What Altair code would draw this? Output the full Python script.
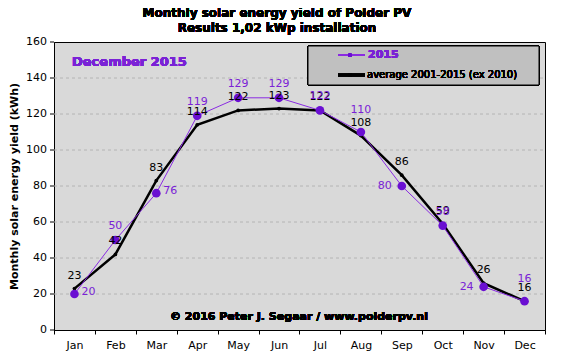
import altair as alt
import pandas as pd

months = ["Jan", "Feb", "Mar", "Apr", "May", "Jun", "Jul", "Aug", "Sep", "Oct", "Nov", "Dec"]
yield_2015 = [20, 50, 76, 119, 129, 129, 122, 110, 80, 58, 24, 16]
yield_avg = [23, 42, 83, 114, 122, 123, 122, 108, 86, 59, 26, 16]
y_ticks = [0, 20, 40, 60, 80, 100, 120, 140, 160]
# label placement style for the 2015 series
label_side_2015 = ["right", "above", "right", "above", "above", "above", "above", "above2", "left", "above", "left", "above2"]

df = pd.DataFrame({"month": months, "y2015": yield_2015, "avg": yield_avg, "side": label_side_2015})
tdf = pd.DataFrame({"t": y_ticks})

FONT = "DejaVu Sans"
PURPLE_M = "#6a0fd2"
PURPLE_L = "#8a2be2"
PURPLE_T = "#7a22d6"

x = alt.X("month:N", sort=months, title=None,
          scale=alt.Scale(paddingInner=0, paddingOuter=0),
          axis=alt.Axis(tickBand="extent", labelAngle=0, labelFont=FONT, labelFontSize=11,
                        labelColor="black", labelPadding=5, tickColor="black", tickSize=4,
                        domainColor="black", grid=False, labelOverlap=False))
yax = alt.Axis(labels=False, ticks=False, grid=False, domainColor="black",
               title="Monthly solar energy yield (kWh)", titleFont=FONT, titleFontSize=11,
               titleFontWeight="bold", titleColor="black", titlePadding=35)
ysc = alt.Scale(domain=[0, 160], nice=False)
y_avg = alt.Y("avg:Q", scale=ysc, axis=yax)
y_15 = alt.Y("y2015:Q", scale=ysc, axis=yax)
y_t = alt.Y("t:Q", scale=ysc, axis=yax)

base = alt.Chart(df)
tb = alt.Chart(tdf)

grid = tb.mark_rule(color="#b4b4b4", strokeDash=[3, 3], strokeWidth=1).transform_filter(
    (alt.datum.t > 0) & (alt.datum.t < 160)).encode(x=alt.value(0), x2=alt.value(491), y=y_t)
ticks = tb.mark_rule(color="black", strokeWidth=1).encode(x=alt.value(-4), x2=alt.value(0), y=y_t)
tlabels = tb.mark_text(font=FONT, fontSize=11, color="black", align="right", baseline="middle").encode(
    x=alt.value(-7), y=y_t, text="t:Q")

avg_line = base.mark_line(color="black", strokeWidth=2.5).encode(x=x, y=y_avg)
avg_pts = base.mark_point(filled=True, color="black", size=14, opacity=1).encode(x=x, y=y_avg)
l15 = base.mark_line(color=PURPLE_L, strokeWidth=1).encode(x=x, y=y_15)
p15 = base.mark_point(filled=True, color=PURPLE_M, size=75, opacity=1).encode(x=x, y=y_15)

avg_lbl = base.mark_text(font=FONT, fontSize=11, color="black", dy=-13).encode(
    x=x, y=y_avg, text="avg:Q")

offs = {"above": (0, -14), "above2": (0, -22), "right": (14, -2), "left": (-17, 0)}
lbl15 = []
for side, (ddx, ddy) in offs.items():
    lbl15.append(base.mark_text(font=FONT, fontSize=11, color=PURPLE_T, dx=ddx, dy=ddy)
                 .transform_filter(alt.datum.side == side)
                 .encode(x=x, y=y_15, text="y2015:Q"))

# legend box
leg_box = base.mark_rect(fill="#c0c0c0", stroke="black", strokeWidth=1).encode(
    x=alt.value(254), x2=alt.value(485), y=alt.value(4), y2=alt.value(43))
leg_l1 = base.mark_rule(color=PURPLE_L, strokeWidth=1).encode(
    x=alt.value(284), x2=alt.value(311), y=alt.value(13))
leg_p1 = base.mark_point(filled=True, color=PURPLE_M, size=14, opacity=1).encode(
    x=alt.value(296), y=alt.value(13))
leg_t1 = base.mark_text(font=FONT, fontSize=11, fontWeight="bold", color=PURPLE_T, align="left",
                        baseline="middle").encode(x=alt.value(314), y=alt.value(13), text=alt.value("2015"))
leg_l2 = base.mark_rule(color="black", strokeWidth=2.5).encode(
    x=alt.value(284), x2=alt.value(311), y=alt.value(33))
leg_p2 = base.mark_point(filled=True, color="black", size=10, opacity=1).encode(
    x=alt.value(296), y=alt.value(33))
leg_t2 = base.mark_text(font=FONT, fontSize=10, color="black", align="left", baseline="middle").encode(
    x=alt.value(313), y=alt.value(33), text=alt.value("average 2001-2015 (ex 2010)"))

dec = base.mark_text(font=FONT, fontSize=13, fontWeight="bold", color=PURPLE_T, align="left",
                     baseline="alphabetic").encode(x=alt.value(18), y=alt.value(24),
                                                   text=alt.value("December 2015"))
copy = base.mark_text(font=FONT, fontSize=11, fontWeight="bold", color="black", align="left",
                      baseline="alphabetic").encode(x=alt.value(116), y=alt.value(278),
                                                    text=alt.value("© 2016 Peter J. Segaar / www.polderpv.nl"))
t1 = base.mark_text(font=FONT, fontSize=12, fontWeight="bold", color="black", align="center",
                    baseline="alphabetic").encode(x=alt.value(223), y=alt.value(-25),
                                                  text=alt.value("Monthly  solar  energy  yield  of  Polder  PV"))
t2 = base.mark_text(font=FONT, fontSize=12, fontWeight="bold", color="black", align="center",
                    baseline="alphabetic").encode(x=alt.value(223), y=alt.value(-10),
                                                  text=alt.value("Results  1,02 kWp  installation"))

chart = alt.layer(grid, ticks, tlabels, avg_line, l15, avg_pts, p15, avg_lbl, *lbl15, leg_box, leg_l1,
                  leg_p1, leg_t1, leg_l2, leg_p2, leg_t2, dec, copy, t1, t2).properties(
    width=491, height=288,
    autosize=alt.AutoSizeParams(type="none"),
    padding={"left": 46, "top": 34, "right": 8, "bottom": 23},
    background="white",
).configure_view(fill="#d9d9d9", stroke="black", strokeWidth=1)

chart.save("out.html", embed_options={"renderer": "svg", "actions": False})
